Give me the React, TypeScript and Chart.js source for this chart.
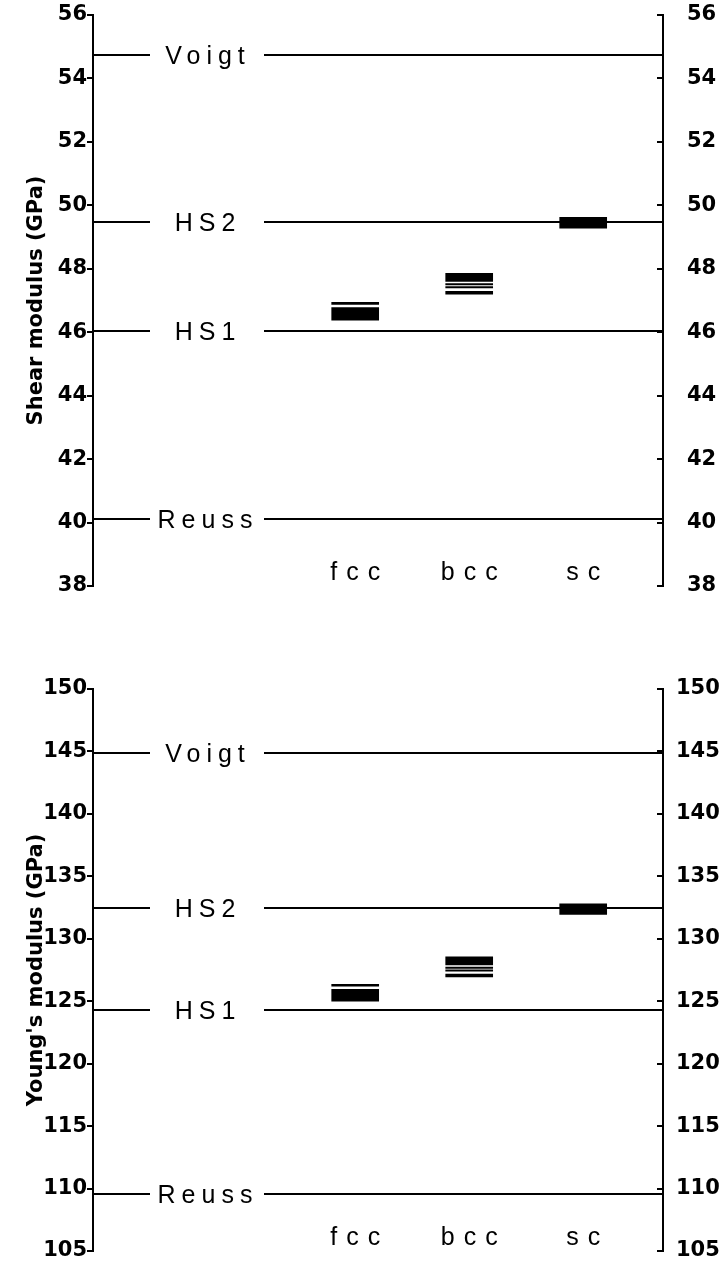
import React, { useEffect, useRef } from 'react';
import { Chart, registerables } from 'chart.js';

Chart.register(...registerables);

// ---------- data ----------
const categories = ['fcc', 'bcc', 'sc'];
const boundNames = ['Voigt', 'HS2', 'HS1', 'Reuss'];

// Shear modulus panel
const shearTicks = [38, 40, 42, 44, 46, 48, 50, 52, 54, 56];
const shearBoundValues = [54.75, 49.48, 46.05, 40.1];
const shearFcc = [[46.38, 46.78], [46.88, 46.94]];
const shearBcc = [[47.6, 47.86], [47.49, 47.53], [47.4, 47.44], [47.2, 47.29]];
const shearSc = [[49.28, 49.62]];

// Young's modulus panel
const youngTicks = [105, 110, 115, 120, 125, 130, 135, 140, 145, 150];
const youngBoundValues = [144.9, 132.5, 124.3, 109.6];
const youngFcc = [[125.0, 125.95], [126.2, 126.35]];
const youngBcc = [[127.9, 128.55], [127.62, 127.74], [127.4, 127.52], [126.95, 127.17]];
const youngSc = [[131.95, 132.8]];

// ---------- helpers ----------
function bandDatasets(groups: number[][][]) {
  const ds: any[] = [];
  groups.forEach((bands, i) => {
    bands.forEach((b) => {
      ds.push({
        type: 'bar',
        data: [{ x: i, y: b }],
        backgroundColor: '#000',
        borderWidth: 0,
        barThickness: 47,
        stack: 'g',
        xAxisID: 'x',
        yAxisID: 'y',
      });
    });
  });
  return ds;
}

function makeOverlay(boundValues: number[]) {
  return {
    id: 'overlay',
    afterDatasetsDraw(chart: any) {
      const { ctx, chartArea: a, scales } = chart;
      const ys = scales.y;
      const xs = scales.x;
      const y2 = scales.y2;
      ctx.save();
      ctx.strokeStyle = '#000';
      ctx.fillStyle = '#000';
      ctx.lineWidth = 2;
      boundValues.forEach((v, k) => {
        const py = Math.round(ys.getPixelForValue(v));
        ctx.beginPath();
        ctx.moveTo(a.left, py);
        ctx.lineTo(a.left + 57, py);
        ctx.moveTo(a.left + 171, py);
        ctx.lineTo(a.right, py);
        ctx.stroke();
        ctx.font = '25px "Liberation Sans", Arial, sans-serif';
        (ctx as any).letterSpacing = '6px';
        ctx.textAlign = 'center';
        ctx.textBaseline = 'alphabetic';
        ctx.fillText(boundNames[k], a.left + 112 + 3, py + 9);
      });
      ctx.font = '25px "Liberation Sans", Arial, sans-serif';
      (ctx as any).letterSpacing = '9px';
      ctx.textAlign = 'center';
      categories.forEach((c, i) => {
        ctx.fillText(c, xs.getPixelForValue(i) + 4.5, a.bottom - 6);
      });
      (ctx as any).letterSpacing = '0px';
      ctx.beginPath();
      y2.ticks.forEach((t: any) => {
        const py = Math.round(y2.getPixelForValue(t.value));
        ctx.moveTo(a.right - 6, py);
        ctx.lineTo(a.right, py);
      });
      ctx.stroke();
      ctx.restore();
    },
  };
}

interface PanelProps {
  top: number;
  height: number;
  padTop: number;
  padBottom: number;
  ticks: number[];
  bounds: number[];
  groups: number[][][];
  title: string;
  rightPad: number;
  tickSize: number;
}

function Panel(p: PanelProps) {
  const ref = useRef<HTMLCanvasElement>(null);
  useEffect(() => {
    const min = p.ticks[0];
    const max = p.ticks[p.ticks.length - 1];
    const tickFont = { family: '"DejaVu Sans", sans-serif', size: p.tickSize, weight: 'bold' };
    const setTicks = (axis: any) => {
      axis.ticks = p.ticks.map((v) => ({ value: v }));
    };
    const fixWidth = (w: number) => (s: any) => {
      s.width = w;
      s.paddingTop = 0;
      s.paddingBottom = 0;
    };
    const chart = new Chart(ref.current as HTMLCanvasElement, {
      type: 'bar',
      data: { datasets: bandDatasets(p.groups) },
      options: {
        animation: false,
        responsive: false,
        devicePixelRatio: 1,
        events: [],
        layout: { padding: { top: p.padTop, bottom: p.padBottom, left: 0, right: 0 } },
        plugins: { legend: { display: false }, tooltip: { enabled: false } },
        scales: {
          x: {
            type: 'linear',
            min: -2.3,
            max: 2.7,
            offset: false,
            display: false,
          },
          y: {
            type: 'linear',
            position: 'left',
            min,
            max,
            stacked: false,
            afterBuildTicks: setTicks,
            afterFit: fixWidth(93),
            grid: {
              drawOnChartArea: false,
              drawTicks: true,
              tickLength: 6,
              color: '#000',
              lineWidth: 2,
            },
            border: { display: true, color: '#000', width: 2 },
            ticks: { color: '#000', font: tickFont, padding: 0 },
            title: {
              display: true,
              text: p.title,
              color: '#000',
              font: { family: '"DejaVu Sans", sans-serif', size: 21, weight: 'bold' },
              padding: { top: 24, bottom: 0 },
            },
          },
          y2: {
            type: 'linear',
            position: 'right',
            min,
            max,
            stacked: false,
            afterBuildTicks: setTicks,
            afterFit: fixWidth(57),
            grid: { drawOnChartArea: false, drawTicks: false },
            border: { display: true, color: '#000', width: 2 },
            ticks: { color: '#000', font: tickFont, padding: p.rightPad },
          },
        },
      } as any,
      plugins: [makeOverlay(p.bounds)],
    });
    return () => chart.destroy();
  }, []);
  return (
    <div style={{ position: 'absolute', left: 0, top: p.top, width: 720, height: p.height }}>
      <canvas ref={ref} width={720} height={p.height} style={{ display: 'block', width: 720, height: p.height }} />
    </div>
  );
}

export default function App() {
  return (
    <div style={{ position: 'absolute', left: 0, top: 0, width: 720, height: 1270, background: '#fff' }}>
      <Panel
        top={0}
        height={600}
        padTop={15}
        padBottom={14}
        ticks={shearTicks}
        bounds={shearBoundValues}
        groups={[shearFcc, shearBcc, shearSc]}
        title="Shear modulus (GPa)"
        rightPad={24}
        tickSize={21}
      />
      <Panel
        top={660}
        height={610}
        padTop={29}
        padBottom={19}
        ticks={youngTicks}
        bounds={youngBoundValues}
        groups={[youngFcc, youngBcc, youngSc]}
        title="Young's modulus (GPa)"
        rightPad={13}
        tickSize={21}
      />
    </div>
  );
}
